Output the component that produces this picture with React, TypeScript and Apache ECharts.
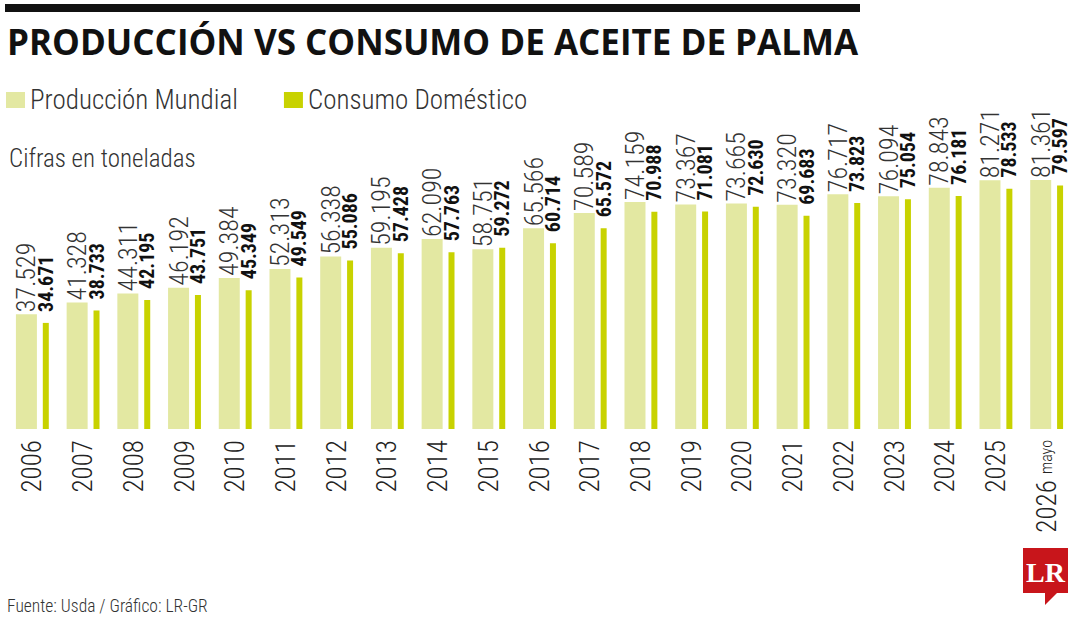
import React, { useEffect, useRef } from 'react';
import * as echarts from 'echarts';

const years = ['2006', '2007', '2008', '2009', '2010', '2011', '2012', '2013', '2014', '2015', '2016', '2017', '2018', '2019', '2020', '2021', '2022', '2023', '2024', '2025', '2026'];
const produccion = [37.529, 41.328, 44.311, 46.192, 49.384, 52.313, 56.338, 59.195, 62.09, 58.751, 65.566, 70.589, 74.159, 73.367, 73.665, 73.32, 76.717, 76.094, 78.843, 81.271, 81.361];
const consumo = [34.671, 38.733, 42.195, 43.751, 45.349, 49.549, 55.086, 57.428, 57.763, 59.272, 60.714, 65.572, 70.988, 71.081, 72.63, 69.683, 73.823, 75.054, 76.181, 78.533, 79.597];
const seriesNames = ['Producción Mundial', 'Consumo Doméstico'];
const titleText = 'PRODUCCIÓN VS CONSUMO DE ACEITE DE PALMA';
const subtitleText = 'Cifras en toneladas';
const sourceText = 'Fuente: Usda / Gráfico: LR-GR';
const lastYearNote = 'mayo';

const COND = '"Roboto Condensed", "Liberation Sans Narrow", sans-serif';
const PROD = '#e3e8a2';
const CONS = '#c8d200';

export default function App() {
  const ref = useRef<HTMLDivElement>(null);
  useEffect(() => {
    document.body.style.margin = '0';
    const chart = echarts.init(ref.current!, null, { renderer: 'svg' });
    const option: any = {
      animation: false,
      backgroundColor: '#ffffff',
      legend: {
        left: 6,
        top: 86,
        padding: 0,
        itemWidth: 19,
        itemHeight: 16,
        itemGap: 46,
        icon: 'rect',
        selectedMode: false,
        data: seriesNames,
        textStyle: { fontFamily: COND, fontWeight: 300, fontSize: 27, lineHeight: 28, color: '#333' },
      },
      grid: { left: 7, right: 8, top: 123, bottom: 191 },
      xAxis: {
        type: 'category',
        data: years,
        axisLine: { show: false },
        axisTick: { show: false },
        axisLabel: {
          rotate: 90,
          margin: 11,
          interval: 0,
          fontFamily: COND,
          fontWeight: 300,
          fontSize: 27,
          color: '#222',
          formatter: (v: string) => (v === years[years.length - 1] ? `{a|${v}} {b|${lastYearNote}}` : v),
          rich: {
            a: { fontFamily: COND, fontWeight: 300, fontSize: 27, color: '#222' },
            b: { fontFamily: COND, fontWeight: 300, fontSize: 16, color: '#222' },
          },
        },
      },
      yAxis: { type: 'value', min: 0, max: 100, show: false },
      series: [
        {
          name: seriesNames[0],
          type: 'bar',
          data: produccion,
          barWidth: 21,
          barGap: '28%',
          itemStyle: { color: PROD },
          label: {
            show: true,
            position: 'top',
            rotate: 90,
            align: 'left',
            verticalAlign: 'middle',
            distance: 2,
            fontFamily: COND,
            fontWeight: 300,
            fontSize: 26,
            color: '#333',
            formatter: (p: any) => p.value.toFixed(3),
          },
        },
        {
          name: seriesNames[1],
          type: 'bar',
          data: consumo,
          barWidth: 6,
          barGap: '28%',
          itemStyle: { color: CONS },
          label: {
            show: true,
            position: 'top',
            rotate: 90,
            align: 'left',
            verticalAlign: 'middle',
            distance: 7,
            offset: [4, 0],
            fontFamily: COND,
            fontWeight: 'bold',
            fontSize: 20,
            color: '#111',
            formatter: (p: any) => p.value.toFixed(3),
          },
        },
      ],
      graphic: [
        { type: 'rect', shape: { x: 5, y: 4, width: 855, height: 8 }, style: { fill: '#111' } },
        {
          type: 'text', x: 7, y: 41,
          style: { text: titleText, fontFamily: '"Open Sans", sans-serif', fontWeight: 'bold', fontSize: 35, fill: '#111', verticalAlign: 'middle', textVerticalAlign: 'middle' },
        },
        {
          type: 'text', x: 9, y: 158,
          style: { text: subtitleText, fontFamily: COND, fontWeight: 300, fontSize: 25, fill: '#333', verticalAlign: 'middle', textVerticalAlign: 'middle' },
        },
        {
          type: 'text', x: 7, y: 606,
          style: { text: sourceText, fontFamily: COND, fontWeight: 300, fontSize: 17.5, fill: '#333', verticalAlign: 'middle', textVerticalAlign: 'middle' },
        },
        { type: 'rect', shape: { x: 1023, y: 548, width: 45, height: 45 }, style: { fill: '#c8151b' } },
        { type: 'polygon', shape: { points: [[1045, 592], [1045, 605], [1058, 592]] }, style: { fill: '#c8151b' } },
        {
          type: 'text', x: 1045.5, y: 572,
          style: { text: 'LR', fontFamily: '"Liberation Serif", "DejaVu Serif", serif', fontWeight: 'bold', fontSize: 28, fill: '#fff', align: 'center', textAlign: 'center', verticalAlign: 'middle', textVerticalAlign: 'middle' },
        },
      ],
    };
    chart.setOption(option);
    return () => chart.dispose();
  }, []);
  return <div ref={ref} style={{ width: 1080, height: 620 }} />;
}
